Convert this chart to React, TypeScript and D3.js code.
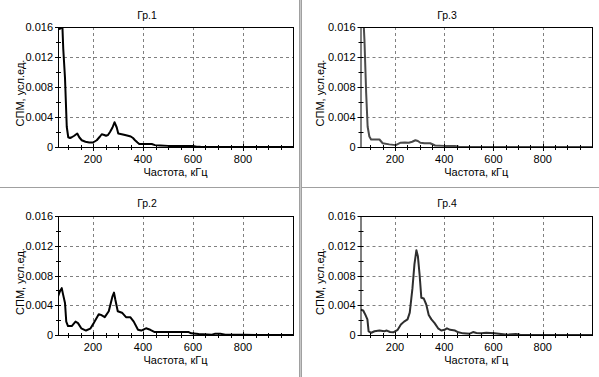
import React from "react";
import * as d3 from "d3";

const xTicks = [200, 400, 600, 800];
const yTicks = [0, 0.004, 0.008, 0.012, 0.016];
const yTickLabels = ["0", "0.004", "0.008", "0.012", "0.016"];
const xLabel = "Частота, кГц";
const yLabel = "СПМ, усл.ед.";

const titles = ["Гр.1", "Гр.3", "Гр.2", "Гр.4"];

const f1 = [60, 70, 76, 81, 88, 95, 101, 108, 115, 125, 137, 145, 155, 170, 185, 200, 215, 228, 235, 245, 252, 260, 268, 278, 286, 295, 301, 315, 328, 340, 351, 360, 368, 378, 385, 400, 420, 435, 448, 470, 500, 550, 600, 615, 630, 700, 800, 900, 1000];
const v1 = [0.0157, 0.0158, 0.0175, 0.0131, 0.0092, 0.0027, 0.0013, 0.0012, 0.0013, 0.0015, 0.0018, 0.0013, 0.0009, 0.0007, 0.0006, 0.0006, 0.0009, 0.0014, 0.0017, 0.0016, 0.0015, 0.0016, 0.002, 0.0026, 0.0033, 0.0026, 0.0018, 0.0017, 0.0016, 0.0015, 0.0014, 0.0012, 0.0009, 0.0006, 0.0004, 0.0004, 0.0004, 0.0004, 0.00025, 0.0002, 0.00015, 0.00015, 0.00012, 0.00005, 0.00002, 0.00001, 0, 0, 0];

const f3 = [72, 76, 83, 89, 96, 103, 120, 137, 150, 177, 203, 223, 240, 256, 270, 283, 293, 303, 320, 343, 363, 400, 443, 460, 500, 600, 800, 1000];
const v3 = [0.017, 0.0143, 0.0072, 0.0027, 0.0014, 0.001, 0.001, 0.001, 0.0005, 0.00035, 0.00025, 0.00057, 0.0006, 0.00057, 0.0007, 0.0009, 0.0008, 0.00057, 0.0005, 0.0005, 0.0002, 0.00015, 0.00015, 0.00003, 0, 0, 0, 0];

const f2 = [60, 68, 75, 80, 88, 93, 100, 115, 130, 140, 153, 172, 189, 203, 223, 232, 247, 263, 278, 284, 289, 299, 316, 332, 349, 363, 380, 393, 412, 429, 447, 500, 583, 593, 623, 676, 689, 709, 729, 800, 900, 1000];
const v2 = [0.0052, 0.0059, 0.0063, 0.0055, 0.0043, 0.0018, 0.0012, 0.0012, 0.0018, 0.0016, 0.0009, 0.0006, 0.00085, 0.0016, 0.0028, 0.0027, 0.0024, 0.0032, 0.0052, 0.0057, 0.0048, 0.0032, 0.003, 0.0024, 0.0024, 0.0018, 0.0007, 0.0006, 0.0009, 0.0007, 0.0004, 0.0004, 0.0004, 0.00022, 0.00013, 0.00005, 0.00018, 0.00018, 0.00005, 0.00002, 0, 0];

const f4 = [61, 71, 80, 88, 93, 104, 117, 137, 157, 167, 180, 193, 211, 224, 237, 251, 260, 271, 279, 287, 293, 300, 307, 317, 327, 337, 348, 361, 375, 388, 401, 411, 424, 444, 457, 477, 504, 517, 531, 551, 571, 604, 631, 657, 691, 708, 800, 900, 1000];
const v4 = [0.0034, 0.0033, 0.0027, 0.0021, 0.0005, 0.0003, 0.0005, 0.0006, 0.0005, 0.0006, 0.0004, 0.00036, 0.0007, 0.0014, 0.0018, 0.0021, 0.003, 0.0063, 0.0095, 0.0114, 0.0106, 0.0081, 0.005, 0.0049, 0.0041, 0.0027, 0.0021, 0.0016, 0.0009, 0.0006, 0.0007, 0.0009, 0.0007, 0.0006, 0.00036, 0.00022, 0.00018, 0.0004, 0.00027, 0.00022, 0.0003, 0.00022, 0.00013, 0.00005, 0.00013, 0.00005, 0, 0, 0];

const seriesF = [f1, f3, f2, f4];
const seriesV = [v1, v3, v2, v4];
const colors = ["#000000", "#4a4a4a", "#000000", "#2e2e2e"];

const FONT = "'Liberation Sans', Arial, sans-serif";

type Box = { x0: number; x1: number; y0: number; y1: number; px: number; py: number };
const boxes: Box[] = [
  { x0: 58, x1: 293, y0: 27, y1: 147, px: 0, py: 0 },
  { x0: 360.5, x1: 592, y0: 27, y1: 147, px: 300, py: 0 },
  { x0: 58, x1: 293, y0: 216, y1: 335, px: 0, py: 188 },
  { x0: 360.5, x1: 592, y0: 216, y1: 335, px: 300, py: 188 },
];

function Panel({ i }: { i: number }) {
  const b = boxes[i];
  const x = d3.scaleLinear().domain([60, 1000]).range([b.x0, b.x1]);
  const y = d3.scaleLinear().domain([0, 0.016]).range([b.y1, b.y0]);
  const data = seriesF[i].map((f, k) => [f, seriesV[i][k]] as [number, number]);
  const line = d3
    .line<[number, number]>()
    .x((d) => x(d[0]))
    .y((d) => y(d[1]));
  const minorX = d3.range(100, 1000, 50);
  const minorY = d3.range(0.002, 0.016, 0.004);
  const cid = `clip${i}`;
  return (
    <g>
      <defs>
        <clipPath id={cid}>
          <rect x={b.x0} y={b.y0} width={b.x1 - b.x0} height={b.y1 - b.y0} />
        </clipPath>
      </defs>
      {xTicks.map((t) => (
        <line key={"gx" + t} x1={Math.round(x(t)) + 0.5} x2={Math.round(x(t)) + 0.5} y1={b.y0} y2={b.y1} stroke="#808080" strokeDasharray="3,3" />
      ))}
      {yTicks.slice(1, 4).map((t) => (
        <line key={"gy" + t} x1={b.x0} x2={b.x1} y1={Math.round(y(t)) + 0.5} y2={Math.round(y(t)) + 0.5} stroke="#808080" strokeDasharray="3,3" />
      ))}
      <path d={line(data) || ""} fill="none" stroke={colors[i]} strokeWidth={2} clipPath={`url(#${cid})`} strokeLinejoin="round" />
      <rect x={b.x0 + 0.5} y={b.y0 + 0.5} width={b.x1 - b.x0} height={b.y1 - b.y0} fill="none" stroke="#000" strokeWidth={1} />
      {minorX.map((t) => (
        <line key={"mx" + t} x1={Math.round(x(t)) + 0.5} x2={Math.round(x(t)) + 0.5} y1={b.y1 - 2} y2={b.y1 + 3} stroke="#000" />
      ))}
      {minorY.map((t) => (
        <line key={"my" + t} x1={b.x0 - 2} x2={b.x0 + 3} y1={Math.round(y(t)) + 0.5} y2={Math.round(y(t)) + 0.5} stroke="#000" />
      ))}
      {yTicks.map((t) => (
        <line key={"ty" + t} x1={b.x0 - 3} x2={b.x0 + 3} y1={Math.round(y(t)) + 0.5} y2={Math.round(y(t)) + 0.5} stroke="#000" />
      ))}
      {xTicks.map((t) => (
        <line key={"tx" + t} x1={Math.round(x(t)) + 0.5} x2={Math.round(x(t)) + 0.5} y1={b.y1 - 3} y2={b.y1 + 4} stroke="#000" />
      ))}
      {yTicks.map((t, k) => (
        <text key={"ly" + t} x={b.x0 - 5} y={y(t) + 4} textAnchor="end" fontSize={11} fontFamily={FONT} fill="#000">
          {yTickLabels[k]}
        </text>
      ))}
      {xTicks.map((t) => (
        <text key={"lx" + t} x={x(t)} y={b.y1 + 16} textAnchor="middle" fontSize={11} fontFamily={FONT} fill="#000">
          {t}
        </text>
      ))}
      <text x={(b.x0 + b.x1) / 2} y={b.y1 + 29} textAnchor="middle" fontSize={11} fontFamily={FONT} fill="#000">
        {xLabel}
      </text>
      <text
        transform={`translate(${b.px + 23.5},${(b.y0 + b.y1) / 2 + 6}) rotate(-90)`}
        textAnchor="middle"
        fontSize={11}
        fontFamily={FONT}
        fill="#000"
      >
        {yLabel}
      </text>
      <text x={b.px + 147} y={b.py + 19} textAnchor="middle" fontSize={10.5} fontFamily={FONT} fill="#000">
        {titles[i]}
      </text>
    </g>
  );
}

export default function App() {
  return (
    <svg width={599} height={377} style={{ position: "fixed", left: 0, top: 0, background: "#fff" }}>
      <rect x={0} y={0} width={599} height={377} fill="#fff" />
      {[0, 1, 2, 3].map((i) => (
        <Panel key={i} i={i} />
      ))}
      <line x1={0} x2={599} y1={187.5} y2={187.5} stroke="#a0a0a0" strokeWidth={1} />
      <line x1={299.5} x2={299.5} y1={0} y2={377} stroke="#a0a0a0" strokeWidth={1} />
      <line x1={300.5} x2={300.5} y1={0} y2={377} stroke="#c8c8c8" strokeWidth={1} />
      <line x1={301.5} x2={301.5} y1={0} y2={377} stroke="#a0a0a0" strokeWidth={1} />
    </svg>
  );
}
